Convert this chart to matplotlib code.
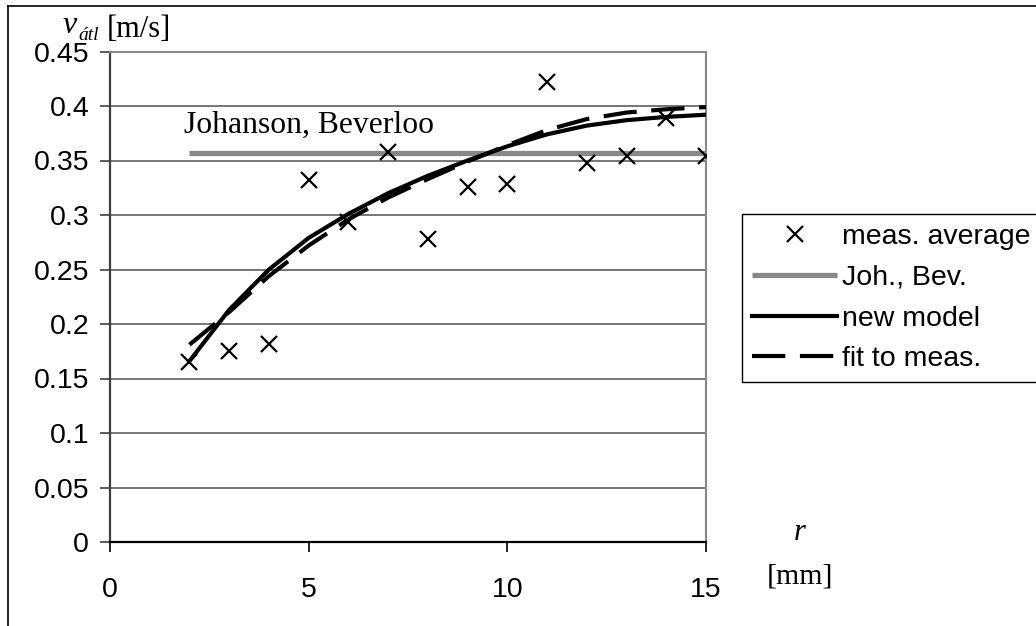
"""plot.py - average outflow velocity vs. orifice radius"""

import matplotlib
matplotlib.use("Agg")
import matplotlib.pyplot as plt
from matplotlib.lines import Line2D

######################
# Data
######################

r_mm = [2, 3, 4, 5, 6, 7, 8, 9, 10, 11, 12, 13, 14, 15]
meas_avg = [0.165, 0.175, 0.182, 0.332, 0.294, 0.358, 0.278, 0.326,
            0.328, 0.422, 0.348, 0.354, 0.389, 0.354]
new_model = [0.166, 0.213, 0.250, 0.279, 0.301, 0.320, 0.336, 0.350,
             0.363, 0.374, 0.382, 0.387, 0.390, 0.392]
fit_meas = [0.181, 0.211, 0.244, 0.272, 0.296, 0.316, 0.333, 0.349,
            0.364, 0.378, 0.388, 0.394, 0.397, 0.399]
joh_r = [2, 15]
joh_v = [0.357, 0.357]

x_ticks = [0, 5, 10, 15]
y_ticks = [0, 0.05, 0.1, 0.15, 0.2, 0.25, 0.3, 0.35, 0.4, 0.45]

W, H = 1036, 626
SANS = "Liberation Sans"
SERIF = "Liberation Serif"


def fx(px):
    return px / W


def fy(py):
    return 1 - py / H


def main():
    fig = plt.figure(figsize=(W / 100, H / 100), dpi=100)
    ax = fig.add_axes([fx(110), fy(542), fx(706) - fx(110), fy(51.5) - fy(542)])

    ax.set_xlim(0, 15)
    ax.set_ylim(0, 0.45)

    # grid + frame
    for yt in y_ticks[1:]:
        ax.axhline(yt, color="#505050", lw=1.1, zorder=1)
    for s in ["top", "right"]:
        ax.spines[s].set_color("#888888")
        ax.spines[s].set_linewidth(1.5)
    ax.spines["left"].set_color("#404040")
    ax.spines["left"].set_linewidth(1.6)
    ax.spines["bottom"].set_color("black")
    ax.spines["bottom"].set_linewidth(1.6)

    ax.plot(r_mm, meas_avg, ls="none", marker="x", ms=11, mew=1.6,
            color="black", label="meas. average", zorder=4)
    ax.plot(joh_r, joh_v, color="#888888", lw=3.8, solid_capstyle="butt",
            label="Joh., Bev.", zorder=2)
    ax.plot(r_mm, new_model, color="black", lw=3, label="new model", zorder=3)
    ax.plot(r_mm, fit_meas, color="black", lw=3, dashes=(8, 3.5),
            dash_capstyle="butt", label="fit to meas.", zorder=3)

    ax.set_xticks(x_ticks)
    ax.set_xticklabels([str(v) for v in x_ticks])
    ax.set_yticks(y_ticks)
    ax.set_yticklabels(["%g" % v for v in y_ticks])
    ax.tick_params(axis="y", direction="out", length=7, width=1.2,
                   color="#404040", pad=8, labelsize=20.5)
    ax.tick_params(axis="x", direction="out", length=7, width=1.2,
                   color="black", pad=18, labelsize=20.5)
    for lab in ax.get_xticklabels() + ax.get_yticklabels():
        lab.set_family(SANS)

    ax.text(1.85, 0.375, "Johanson, Beverloo", family=SERIF, fontsize=22.8,
            va="baseline", ha="left")

    # axis titles (Times-like)
    fig.text(fx(63), fy(33), "v", family=SERIF, style="italic", fontsize=23,
             va="baseline", ha="left")
    fig.text(fx(78), fy(40), "átl", family=SERIF, style="italic", fontsize=14,
             va="baseline", ha="left")
    fig.text(fx(107), fy(37), "[m/s]", family=SERIF, fontsize=22,
             va="baseline", ha="left")
    fig.text(fx(800), fy(540), "r", family=SERIF, style="italic", fontsize=22,
             va="baseline", ha="center")
    fig.text(fx(800), fy(583), "[mm]", family=SERIF, fontsize=21.5,
             va="baseline", ha="center")

    leg = ax.legend(loc="upper left", bbox_to_anchor=(fx(742), fy(214)),
                    bbox_transform=fig.transFigure, borderaxespad=0,
                    fancybox=False, framealpha=1, edgecolor="black",
                    borderpad=0.35, handlelength=3.0, handletextpad=0.15,
                    labelspacing=0.52, prop={"family": SANS, "size": 20.5})
    leg.get_frame().set_linewidth(1.0)

    # outer chart border (left & top visible)
    fig.add_artist(Line2D([fx(8), fx(8)], [0, fy(6)], color="black", lw=1.2,
                          transform=fig.transFigure))
    fig.add_artist(Line2D([fx(8), 1], [fy(6), fy(6)], color="black", lw=1.2,
                          transform=fig.transFigure))

    plt.savefig("out.png", dpi=100)


if __name__ == "__main__":
    main()
